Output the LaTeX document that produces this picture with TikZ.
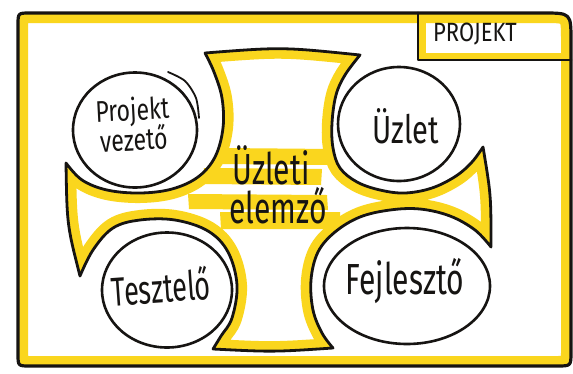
\documentclass[tikz,border=0pt]{standalone}
\usepackage{fontspec}
\setmainfont{Fira Sans}
\usetikzlibrary{shapes.geometric}
\definecolor{hl}{RGB}{250,214,30}
\definecolor{inkc}{RGB}{22,20,18}
\newcommand{\vstr}[2]{\scalebox{1}[#1]{#2}}
\begin{document}
\begin{tikzpicture}[x=1pt,y=-1pt,
  ink/.style={draw=inkc, line width=2.8pt, line join=round, line cap=round},
  bubble/.style={ellipse, draw=inkc, line width=2.6pt, inner sep=0pt},
  hand/.style={inner sep=0pt, text=inkc},
  bar/.style={fill=hl, draw=none}]
\useasboundingbox (0,0) rectangle (573,373);
\fill[white] (0,0) rectangle (573,373);

\def\framepath{(18,25) -- (18,354) .. controls (18,366) .. (30,366) -- (557,366) .. controls (571,366) .. (571,352) -- (571,41) .. controls (571,13) .. (543,13) -- (30,13) .. controls (18,13) .. (18,25) -- cycle}

\def\crosspath{(205,53) .. controls (282,47) .. (360,55)
  -- plot[smooth,tension=0.6] coordinates {(360,55) (345,75) (336,95) (332,123) (333,148) (340,168) (357,182) (380,190) (405,193) (432,188) (456,176) (472,162) (483,147)}
  .. controls (491,195) .. (491,247)
  -- plot[smooth,tension=0.6] coordinates {(491,247) (475,230) (450,216) (420,209) (390,210) (360,217) (335,232) (318,252) (311,280) (313,310) (322,333) (333,348)}
  .. controls (273,352) .. (213,349)
  -- plot[smooth,tension=0.6] coordinates {(213,349) (221,336) (232,318) (237,285) (228,252) (208,231) (175,220) (140,220) (113,228) (93,250) (80,276)}
  .. controls (67,225) .. (66,163)
  -- plot[smooth,tension=0.6] coordinates {(66,163) (82,180) (107,190) (140,193) (172,189) (198,177) (215,157) (223,128) (222,98) (214,72) (205,53)}
  -- cycle}

% yellow bands
\begin{scope}
  \clip \framepath;
  \draw[hl, line width=20pt] \framepath;
  \clip (418,13) rectangle (571,60);
  \draw[hl, line width=15pt] (418,0) -- (418,60) -- (580,60);
\end{scope}
\begin{scope}
  \clip \crosspath;
  \draw[hl, line width=20pt] \crosspath;
\end{scope}

% highlighter strokes behind the centre text
\fill[bar] (223,148) -- (333,149) -- (334,165) -- (222,164) -- cycle;
\fill[bar] (204,168) -- (322,169) -- (321,185) -- (203,184) -- cycle;
\fill[bar] (188,194) -- (327,195) -- (328,210) -- (189,209) -- cycle;
\fill[bar] (220,212) -- (340,212) -- (341,229) -- (221,229) -- cycle;

% outlines
\draw[ink, line width=3.2pt] \framepath;
\draw[ink] (418,13) -- (418,60) -- (571,60);
\draw[ink] \crosspath;

% role bubbles
\node[bubble, minimum width=124pt, minimum height=115pt] (pv) at (135,130) {};
\node[bubble, minimum width=122pt, minimum height=114pt] (uz) at (399,124) {};
\node[bubble, minimum width=130pt, minimum height=115pt] (te) at (167,290) {};
\node[bubble, minimum width=166pt, minimum height=116pt] (fe) at (407,286) {};
\draw[inkc, line width=1.8pt, line cap=round] plot[smooth] coordinates {(168,72) (185,81) (196,98) (199,118)};

% texts
\node[hand, font=\fontsize{22}{22}\selectfont] (projekt) at (475,34) {\vstr{1.2}{PROJEKT}};
\node[hand, font=\fontsize{23}{25}\selectfont, align=center, rotate=3] (pvt) at (133,124)
  {\vstr{1.3}{Projekt}\\[-2pt]\vstr{1.3}{vezető}};
\node[hand, font=\fontsize{29}{29}\selectfont] (uzt) at (406,126) {\vstr{1.35}{Üzlet}};
\node[hand, font=\fontsize{30}{30}\selectfont] (ue1) at (271,165) {\vstr{1.45}{Üzleti}};
\node[hand, font=\fontsize{30}{30}\selectfont] (ue2) at (278,206) {\vstr{1.45}{elemző}};
\node[hand, font=\fontsize{27}{27}\selectfont, rotate=4] (tet) at (161,286) {\vstr{1.5}{Tesztelő}};
\node[hand, font=\fontsize{30}{30}\selectfont] (fet) at (405,281) {\vstr{1.45}{Fejlesztő}};
\end{tikzpicture}
\end{document}
